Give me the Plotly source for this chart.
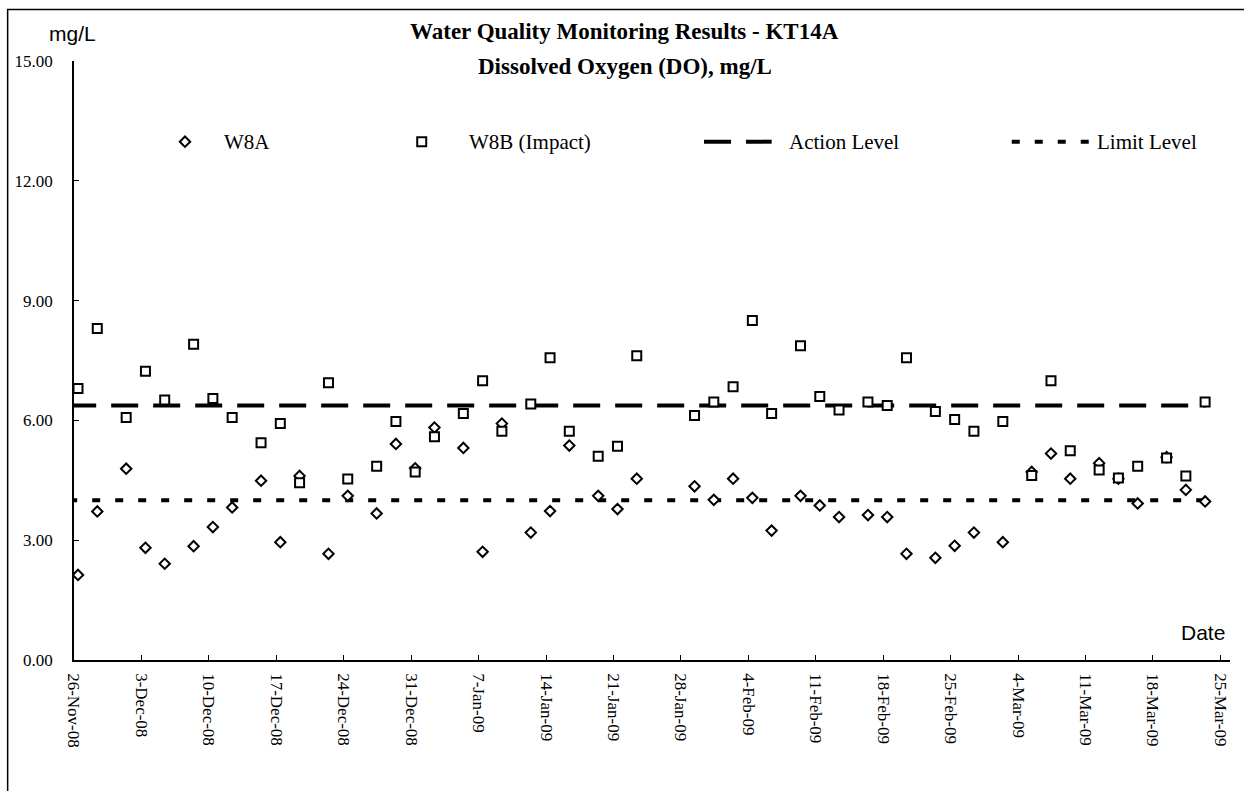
import plotly.graph_objects as go

# ---------------- data ----------------
sample_dates = [
    "2008-11-26", "2008-11-28", "2008-12-01", "2008-12-03", "2008-12-05",
    "2008-12-08", "2008-12-10", "2008-12-12", "2008-12-15", "2008-12-17",
    "2008-12-19", "2008-12-22", "2008-12-24", "2008-12-27", "2008-12-29",
    "2008-12-31", "2009-01-02", "2009-01-05", "2009-01-07", "2009-01-09",
    "2009-01-12", "2009-01-14", "2009-01-16", "2009-01-19", "2009-01-21",
    "2009-01-23", "2009-01-29", "2009-01-31", "2009-02-02", "2009-02-04",
    "2009-02-06", "2009-02-09", "2009-02-11", "2009-02-13", "2009-02-16",
    "2009-02-18", "2009-02-20", "2009-02-23", "2009-02-25", "2009-02-27",
    "2009-03-02", "2009-03-05", "2009-03-07", "2009-03-09", "2009-03-12",
    "2009-03-14", "2009-03-16", "2009-03-19", "2009-03-21", "2009-03-23",
]
sample_time = "10:00"

w8a_do = [
    2.13, 3.72, 4.79, 2.81, 2.41, 2.85, 3.33, 3.82, 4.49, 2.95,
    4.61, 2.66, 4.11, 3.67, 5.41, 4.80, 5.82, 5.31, 2.71, 5.92,
    3.19, 3.73, 5.37, 4.11, 3.78, 4.54, 4.35, 4.01, 4.54, 4.06,
    3.24, 4.11, 3.87, 3.58, 3.63, 3.58, 2.66, 2.56, 2.86, 3.19,
    2.95, 4.71, 5.17, 4.54, 4.93, 4.54, 3.92, 5.08, 4.26, 3.97,
]
w8b_do = [
    6.80, 8.30, 6.07, 7.23, 6.51, 7.91, 6.55, 6.07, 5.44, 5.92,
    4.44, 6.94, 4.53, 4.85, 5.97, 4.71, 5.59, 6.17, 6.99, 5.73,
    6.41, 7.57, 5.73, 5.10, 5.35, 7.62, 6.12, 6.46, 6.84, 8.50,
    6.17, 7.87, 6.60, 6.26, 6.46, 6.37, 7.57, 6.22, 6.02, 5.73,
    5.97, 4.62, 6.99, 5.24, 4.76, 4.56, 4.85, 5.06, 4.61, 6.46,
]

action_level = 6.37
limit_level = 4.0
level_span = ["2008-11-25 12:00", "2009-03-23 12:00"]

x_range = ["2008-11-26", "2009-03-26"]
x_tick0 = "2008-11-26"
y_ticks = [0, 3, 6, 9, 12, 15]

series_names = ["W8A", "W8B (Impact)", "Action Level", "Limit Level"]
title_line1 = "Water Quality Monitoring Results - KT14A"
title_line2 = "Dissolved Oxygen (DO), mg/L"
y_unit = "mg/L"
x_title = "Date"

# ---------------- figure ----------------
SERIF = "Liberation Serif, Times New Roman, serif"
SANS = "Liberation Sans, Arial, sans-serif"

DIAMOND = dict(symbol="diamond", size=8, color="white",
               line=dict(color="black", width=2))
SQUARE = dict(symbol="square", size=9, color="white",
              line=dict(color="black", width=2))

x_vals = [f"{d} {sample_time}" for d in sample_dates]

fig = go.Figure()
fig.add_trace(go.Scatter(
    x=level_span, y=[action_level] * len(level_span), mode="lines",
    name=series_names[2], line=dict(color="black", width=4, dash="27px,15px"),
    showlegend=False, hoverinfo="skip"))
fig.add_trace(go.Scatter(
    x=level_span, y=[limit_level] * len(level_span), mode="lines",
    name=series_names[3], line=dict(color="black", width=4, dash="8px,15px"),
    showlegend=False, hoverinfo="skip"))
fig.add_trace(go.Scatter(
    x=x_vals, y=w8a_do, mode="markers", name=series_names[0],
    marker=DIAMOND, showlegend=False))
fig.add_trace(go.Scatter(
    x=x_vals, y=w8b_do, mode="markers", name=series_names[1],
    marker=SQUARE, showlegend=False))

# ---- manual legend (overlay axis in paper-like units) ----
leg_y = 0.8653
leg_marker_x = [0.0960, 0.3008]
leg_text_x = [0.1280, 0.3397, 0.6165, 0.8832]
fig.add_trace(go.Scatter(
    x=[leg_marker_x[0]], y=[leg_y], xaxis="x2", yaxis="y2", mode="markers",
    marker=DIAMOND, showlegend=False, hoverinfo="skip"))
fig.add_trace(go.Scatter(
    x=[leg_marker_x[1]], y=[leg_y], xaxis="x2", yaxis="y2", mode="markers",
    marker=SQUARE, showlegend=False, hoverinfo="skip"))

shapes = [
    # outer frame
    dict(type="rect", xref="paper", yref="paper", x0=-0.0574, x1=1.2,
         y0=-0.4, y1=1.0860, line=dict(color="black", width=1.5)),
    # legend lines
    dict(type="line", xref="paper", yref="paper", x0=0.5450, x1=0.6035,
         y0=leg_y, y1=leg_y, line=dict(color="black", width=4, dash="27px,15px")),
    dict(type="line", xref="paper", yref="paper", x0=0.8112, x1=0.8789,
         y0=leg_y, y1=leg_y, line=dict(color="black", width=4, dash="8px,15px")),
]

annotations = [
    dict(text=f"<b>{title_line1}</b>", x=0.4766, y=1.0489, xref="paper", yref="paper",
         showarrow=False, xanchor="center", yanchor="middle",
         font=dict(family=SERIF, size=23, color="black")),
    dict(text=f"<b>{title_line2}</b>", x=0.4766, y=0.9905, xref="paper", yref="paper",
         showarrow=False, xanchor="center", yanchor="middle",
         font=dict(family=SERIF, size=23, color="black")),
    dict(text=y_unit, x=-0.0013, y=1.0467, xref="paper", yref="paper",
         showarrow=False, xanchor="center", yanchor="middle",
         font=dict(family=SANS, size=21, color="black")),
    dict(text=x_title, x=0.9766, y=0.0467, xref="paper", yref="paper",
         showarrow=False, xanchor="center", yanchor="middle",
         font=dict(family=SANS, size=21, color="black")),
]
for name, tx in zip(series_names, leg_text_x):
    annotations.append(dict(
        text=name, x=tx, y=leg_y, xref="paper", yref="paper", showarrow=False,
        xanchor="left", yanchor="middle",
        font=dict(family=SERIF, size=21, color="black")))

fig.update_layout(
    width=1244, height=791,
    margin=dict(l=74, r=14, t=61, b=131),
    paper_bgcolor="white", plot_bgcolor="white",
    showlegend=False,
    shapes=shapes, annotations=annotations,
    xaxis=dict(
        type="date", range=x_range, tick0=x_tick0, dtick=7 * 86400000,
        tickformat="%-d-%b-%y", tickangle=90, ticks="inside", ticklen=5,
        tickcolor="black", showline=True, linecolor="black", linewidth=1.5,
        showgrid=False, zeroline=False, ticklabelstandoff=8,
        tickfont=dict(family=SERIF, size=17, color="black")),
    yaxis=dict(
        range=[0, 15], tickvals=y_ticks, tickformat=".2f", ticks="inside",
        ticklen=5, tickcolor="black", showline=True, linecolor="black",
        linewidth=1.5, showgrid=False, zeroline=False, ticklabelstandoff=16,
        tickfont=dict(family=SERIF, size=17, color="black")),
    xaxis2=dict(overlaying="x", range=[0, 1], visible=False, anchor="y2"),
    yaxis2=dict(overlaying="y", range=[0, 1], visible=False, anchor="x2"),
)

fig.write_html("out.html", config={"displayModeBar": False},
               post_script="document.body.style.margin='0';")
